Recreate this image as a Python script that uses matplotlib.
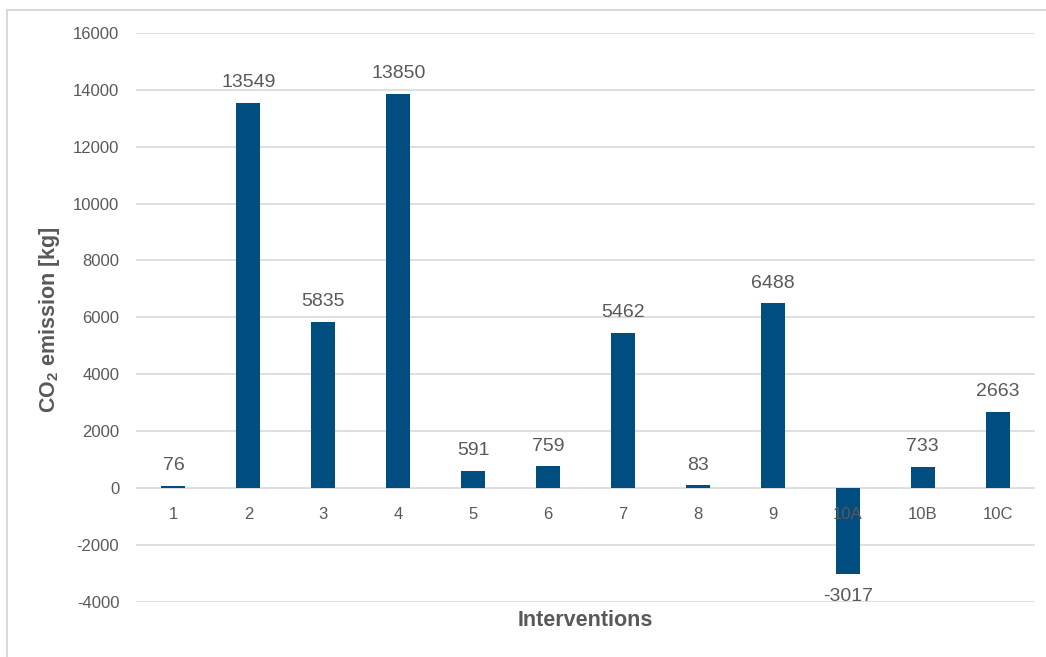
import matplotlib
matplotlib.use("Agg")
import matplotlib.pyplot as plt
from matplotlib.lines import Line2D

categories = ["1", "2", "3", "4", "5", "6", "7", "8", "9", "10A", "10B", "10C"]
values = [76, 13549, 5835, 13850, 591, 759, 5462, 83, 6488, -3017, 733, 2663]
yticks = [-4000, -2000, 0, 2000, 4000, 6000, 8000, 10000, 12000, 14000, 16000]

plt.rcParams['font.family'] = ['Liberation Sans', 'DejaVu Sans']
W, H = 1046, 657
fig = plt.figure(figsize=(W / 100, H / 100), dpi=100)

ax = fig.add_axes([136 / W, 1 - 601.5 / H, (1035 - 136) / W, (601.5 - 33) / H])
x = list(range(len(categories)))
bar_color = '#004E80'
ax.bar(x, values, width=0.32, color=bar_color, zorder=2)

ax.set_xlim(-0.5, len(categories) - 0.5)
ax.set_ylim(-4000, 16000)
ax.set_yticks(yticks)
ax.set_yticklabels([str(t) for t in yticks])
ax.tick_params(axis='y', length=0, pad=12, labelsize=12, labelcolor='#595959')
ax.set_xticks([])
ax.grid(axis='y', color='#D9D9D9', linewidth=1.2, zorder=0)
ax.set_axisbelow(True)
for s in ax.spines.values():
    s.set_visible(False)

grey = '#595959'
for xi, c in zip(x, categories):
    ax.annotate(c, (xi, 0), xytext=(0, -19.5), textcoords='offset points',
                ha='center', va='center', fontsize=12, color=grey, zorder=5)

for xi, v in zip(x, values):
    off = 14.5 if v >= 0 else -16.5
    ax.annotate(str(v), (xi, v), xytext=(0, off), textcoords='offset points',
                ha='center', va='center', fontsize=14, color=grey, zorder=5)

fig.text(585.5 / W, 1 - 620 / H, 'Interventions', ha='center', va='center',
         fontsize=15.5, fontweight='bold', color=grey)
fig.text(50 / W, 1 - 320 / H, r'CO$_\mathregular{2}$ emission [kg]', ha='center', va='center',
         rotation=90, fontsize=15.5, fontweight='bold', color=grey)

# outer border (top and left visible)
fig.add_artist(Line2D([7 / W, 7 / W], [0, 1 - 10 / H], transform=fig.transFigure,
                      color='#D9D9D9', linewidth=1.5))
fig.add_artist(Line2D([7 / W, 1], [1 - 10 / H, 1 - 10 / H], transform=fig.transFigure,
                      color='#D9D9D9', linewidth=1.5))

fig.savefig('out.png', dpi=100)
